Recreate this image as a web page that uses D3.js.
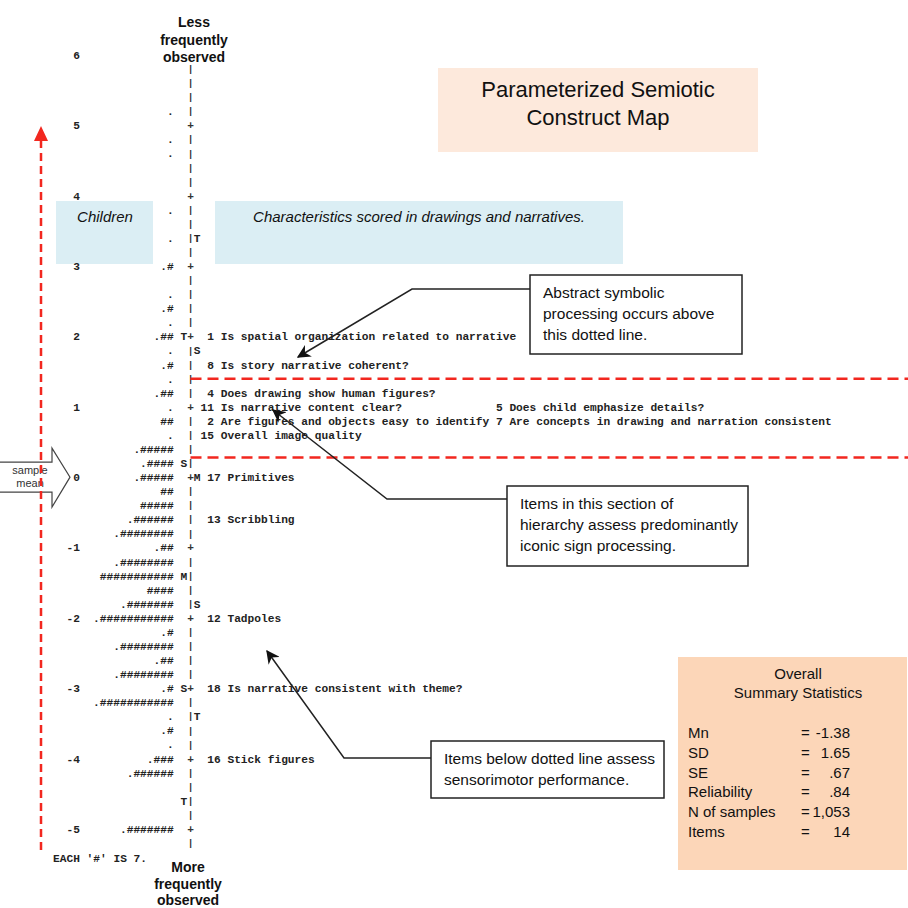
<!DOCTYPE html>
<html>
<head>
<meta charset="utf-8">
<script src="https://cdn.jsdelivr.net/npm/d3@7"></script>
<style>
  body { margin: 0; background: #fff; }
  svg { display: block; }
  .mono { font-family: "Liberation Mono", "Courier New", monospace; font-size: 11.2px; font-weight: bold; fill: #222; white-space: pre; }
  .sans { font-family: "Liberation Sans", Arial, sans-serif; fill: #111; }
</style>
</head>
<body>
<script>
// logit scale labels
var logitTicks = [6, 5, 4, 3, 2, 1, 0, -1, -2, -3, -4, -5];

// children (persons), each '#' is 7
var personRows = [
    [5.2, "."], [4.8, "."], [4.6, "."], [3.8, "."], [3.4, "."], [3.0, ".#"],
    [2.6, "."], [2.4, ".#"], [2.2, "."], [2.0, ".##"], [1.8, "."], [1.6, ".#"],
    [1.4, "."], [1.2, ".##"], [1.0, "."], [0.8, "##"], [0.6, "."], [0.4, ".#####"],
    [0.2, ".####"], [0.0, ".#####"], [-0.2, "##"], [-0.4, "#####"], [-0.6, ".######"],
    [-0.8, ".########"], [-1.0, ".##"], [-1.2, ".########"], [-1.4, "###########"],
    [-1.6, "####"], [-1.8, ".#######"], [-2.0, ".###########"], [-2.2, ".#"],
    [-2.4, ".########"], [-2.6, ".##"], [-2.8, ".########"], [-3.0, ".#"],
    [-3.2, ".###########"], [-3.4, "."], [-3.6, ".#"], [-3.8, "."], [-4.0, ".###"],
    [-4.2, ".######"], [-5.0, ".#######"]
];

// M / S / T markers on each side of the axis
var personMarks = [[2.0, "T"], [0.2, "S"], [-1.4, "M"], [-3.0, "S"], [-4.6, "T"]];
var itemMarks = [[3.4, "T"], [1.8, "S"], [0.0, "M"], [-1.8, "S"], [-3.4, "T"]];

// items, printed as in the output listing
var itemRows = [
    [2.0, [" 1 Is spatial organization related to narrative"]],
    [1.6, [" 8 Is story narrative coherent?"]],
    [1.2, [" 4 Does drawing show human figures?"]],
    [1.0, ["11 Is narrative content clear?", " 5 Does child emphasize details?"]],
    [0.8, [" 2 Are figures and objects easy to identify", " 7 Are concepts in drawing and narration consistent"]],
    [0.6, ["15 Overall image quality"]],
    [0.0, [" 17 Primitives"]],
    [-0.6, [" 13 Scribbling"]],
    [-2.0, [" 12 Tadpoles"]],
    [-3.0, [" 18 Is narrative consistent with theme?"]],
    [-4.0, [" 16 Stick figures"]]
];

// dotted cut lines between sections
var cutLines = [1.4, 0.28];

var statLabels = ["Mn", "SD", "SE", "Reliability", "N of samples", "Items"];
var statValues = ["-1.38", "1.65", ".67", ".84", "1,053", "14"];

var W = 908, H = 908;
var svg = d3.select("body").append("svg").attr("width", W).attr("height", H);

var y = d3.scaleLinear().domain([6, -5]).range([55, 829]);
var cw = 6.72, axisX = 190.5;
var col = function(k) { return axisX - cw / 2 + k * cw; };
var key = function(m) { return Math.round(m * 5); };

// background boxes
svg.append("rect").attr("x", 438).attr("y", 68).attr("width", 320).attr("height", 84).attr("fill", "#fde9dc");
svg.append("rect").attr("x", 56).attr("y", 201).attr("width", 97).attr("height", 63).attr("fill", "#dbeef4");
svg.append("rect").attr("x", 215).attr("y", 201).attr("width", 408).attr("height", 63).attr("fill", "#dbeef4");
svg.append("rect").attr("x", 678).attr("y", 657).attr("width", 229).attr("height", 213).attr("fill", "#fcd6b8");

svg.append("text").attr("class", "sans").attr("x", 598).attr("y", 97).attr("text-anchor", "middle")
    .style("font-size", "22px").text("Parameterized Semiotic");
svg.append("text").attr("class", "sans").attr("x", 598).attr("y", 125).attr("text-anchor", "middle")
    .style("font-size", "22px").text("Construct Map");

svg.append("text").attr("class", "sans").attr("x", 105).attr("y", 222).attr("text-anchor", "middle")
    .style("font-size", "15px").style("font-style", "italic").text("Children");
svg.append("text").attr("class", "sans").attr("x", 419).attr("y", 222).attr("text-anchor", "middle")
    .style("font-size", "15px").style("font-style", "italic").text("Characteristics scored in drawings and narratives.");

// axis header / footer
["Less", "frequently", "observed"].forEach(function(t, i) {
    svg.append("text").attr("class", "sans").attr("x", 194).attr("y", 27 + i * 17.5)
        .attr("text-anchor", "middle").style("font-size", "14px").style("font-weight", "bold").text(t);
});
["More", "frequently", "observed"].forEach(function(t, i) {
    svg.append("text").attr("class", "sans").attr("x", 188).attr("y", 872 + i * 16.5)
        .attr("text-anchor", "middle").style("font-size", "14px").style("font-weight", "bold").text(t);
});

// logit labels
svg.selectAll("text.tick")
    .data(logitTicks)
    .enter()
    .append("text")
    .attr("class", "mono tick")
    .attr("x", 80)
    .attr("y", function(d) { return y(d); })
    .attr("dy", "0.35em")
    .attr("text-anchor", "end")
    .text(function(d) { return d; });

// axis rows: '+' on whole logits, short '|' between
var axisRows = d3.range(29, -27, -1).map(function(i) { return i / 5; });

svg.selectAll("text.axis")
    .data(axisRows)
    .enter()
    .append("text")
    .attr("class", "mono axis")
    .attr("x", axisX)
    .attr("y", function(d) { return y(d); })
    .attr("text-anchor", "middle")
    .attr("dy", function(d) { return key(d) % 5 === 0 ? "0.35em" : "0.32em"; })
    .style("font-size", function(d) { return key(d) % 5 === 0 ? "11.2px" : "9.5px"; })
    .style("fill", "#333")
    .text(function(d) { return key(d) % 5 === 0 ? "+" : "|"; });

svg.selectAll("text.pmark")
    .data(personMarks)
    .enter()
    .append("text")
    .attr("class", "mono pmark")
    .attr("x", col(-1))
    .attr("y", function(d) { return y(d[0]); })
    .attr("dy", "0.35em")
    .text(function(d) { return d[1]; });

svg.selectAll("text.imark")
    .data(itemMarks)
    .enter()
    .append("text")
    .attr("class", "mono imark")
    .attr("x", col(1))
    .attr("y", function(d) { return y(d[0]); })
    .attr("dy", "0.35em")
    .text(function(d) { return d[1]; });

svg.selectAll("text.person")
    .data(personRows)
    .enter()
    .append("text")
    .attr("class", "mono person")
    .attr("x", col(-2))
    .attr("y", function(d) { return y(d[0]); })
    .attr("dy", "0.35em")
    .attr("text-anchor", "end")
    .text(function(d) { return d[1]; });

svg.selectAll("text.item")
    .data(itemRows)
    .enter()
    .append("text")
    .attr("class", "mono item")
    .attr("xml:space", "preserve")
    .attr("x", col(2))
    .attr("y", function(d) { return y(d[0]); })
    .attr("dy", "0.35em")
    .text(function(d) {
        return d[1].map(function(c, i) { return i < d[1].length - 1 ? c.padEnd(43) : c; }).join("");
    });

svg.append("text").attr("class", "mono").attr("xml:space", "preserve")
    .attr("x", 53).attr("y", 862).text("EACH '#' IS 7.");

// red cut lines
svg.selectAll("line.cut")
    .data(cutLines)
    .enter()
    .append("line")
    .attr("x1", axisX).attr("x2", W)
    .attr("y1", function(d) { return y(d); })
    .attr("y2", function(d) { return y(d); })
    .attr("stroke", "#f2271f")
    .attr("stroke-width", 2.5)
    .attr("stroke-dasharray", "11,6");

// sample mean block arrow
var ym = y(0);
svg.append("path")
    .attr("d", "M-2," + (ym - 15) + "H52V" + (ym - 29) + "L70," + ym + "L52," + (ym + 30) + "V" + (ym + 15) + "H-2")
    .attr("fill", "#fff").attr("stroke", "#444").attr("stroke-width", 1.2);
svg.append("text").attr("class", "sans").attr("x", 30).attr("y", ym - 3).attr("text-anchor", "middle")
    .style("font-size", "11px").style("fill", "#333").text("sample");
svg.append("text").attr("class", "sans").attr("x", 30).attr("y", ym + 10).attr("text-anchor", "middle")
    .style("font-size", "11px").style("fill", "#333").text("mean");

// red vertical arrow
svg.append("line").attr("x1", 41).attr("x2", 41).attr("y1", 850).attr("y2", 140)
    .attr("stroke", "#f2271f").attr("stroke-width", 2.5).attr("stroke-dasharray", "8,5");
svg.append("path").attr("d", "M34,141L48,141L41,126Z").attr("fill", "#f2271f");

// callouts
var defs = svg.append("defs");
defs.append("marker").attr("id", "ah").attr("viewBox", "0 0 10 10").attr("refX", 9).attr("refY", 5)
    .attr("markerWidth", 9).attr("markerHeight", 9).attr("orient", "auto")
    .append("path").attr("d", "M0,0L10,5L0,10L3,5Z").attr("fill", "#111");

var callouts = [
    { box: [530, 275, 212, 79], lines: ["Abstract symbolic", "processing occurs above", "this dotted line."], pts: [[530, 289], [412, 289], [298, 357]] },
    { box: [507, 486, 241, 80], lines: ["Items in this section of", "hierarchy assess predominantly", "iconic sign processing."], pts: [[507, 499], [387, 499], [273, 410]] },
    { box: [431, 741, 233, 57], lines: ["Items below dotted line assess", "sensorimotor performance."], pts: [[431, 758], [344, 758], [267, 651]] }
];

callouts.forEach(function(c) {
    svg.append("path")
        .attr("d", d3.line()(c.pts))
        .attr("fill", "none").attr("stroke", "#222").attr("stroke-width", 1.5)
        .attr("marker-end", "url(#ah)");
    svg.append("rect").attr("x", c.box[0]).attr("y", c.box[1]).attr("width", c.box[2]).attr("height", c.box[3])
        .attr("fill", "#fff").attr("stroke", "#222").attr("stroke-width", 1.5);
    c.lines.forEach(function(t, i) {
        svg.append("text").attr("class", "sans").attr("x", c.box[0] + 13).attr("y", c.box[1] + 23 + i * 21)
            .style("font-size", "15.5px").text(t);
    });
});

// summary statistics
svg.append("text").attr("class", "sans").attr("x", 798).attr("y", 679).attr("text-anchor", "middle")
    .style("font-size", "15px").text("Overall");
svg.append("text").attr("class", "sans").attr("x", 798).attr("y", 698).attr("text-anchor", "middle")
    .style("font-size", "15px").text("Summary Statistics");

statLabels.forEach(function(t, i) {
    var by = 738 + i * 19.8;
    svg.append("text").attr("class", "sans").attr("x", 688).attr("y", by).style("font-size", "15px").text(t);
    svg.append("text").attr("class", "sans").attr("x", 801).attr("y", by).style("font-size", "15px").text("=");
    svg.append("text").attr("class", "sans").attr("x", 850).attr("y", by).attr("text-anchor", "end")
        .style("font-size", "15px").text(statValues[i]);
});
</script>
</body>
</html>
